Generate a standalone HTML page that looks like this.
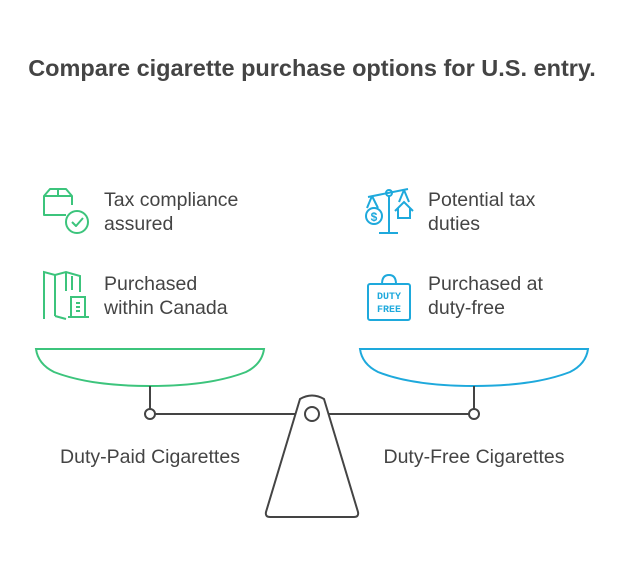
<!DOCTYPE html>
<html><head><meta charset="utf-8"><style>
body{margin:0;background:#fff;}
svg{display:block;font-family:"Liberation Sans",sans-serif;}
</style></head><body>
<svg width="624" height="576" viewBox="0 0 624 576" xmlns="http://www.w3.org/2000/svg">
<rect width="624" height="576" fill="#fff"/>
<text x="312" y="76" text-anchor="middle" font-size="23.5" font-weight="bold" fill="#444">Compare cigarette purchase options for U.S. entry.</text>

<path d="M36 349 L264 349 Q262 364 246 372 Q210 386 150 386 Q90 386 54 372 Q38 364 36 349 Z" fill="none" stroke="#3cc47c" stroke-width="2"/>
<path d="M360 349 L588 349 Q586 364 570 372 Q534 386 474 386 Q414 386 378 372 Q362 364 360 349 Z" fill="none" stroke="#1ea9dc" stroke-width="2"/>

<g stroke="#444" stroke-width="2" fill="none">
<line x1="150" y1="386" x2="150" y2="409"/>
<line x1="474" y1="386" x2="474" y2="409"/>
<line x1="155" y1="414" x2="303" y2="414"/>
<line x1="321" y1="414" x2="469" y2="414"/>
<circle cx="150" cy="414" r="5" fill="#fff"/>
<circle cx="474" cy="414" r="5" fill="#fff"/>
<path d="M300 399 Q312 392 324 399 L358 512 Q359 517 354 517 L270 517 Q265 517 266 512 Z" fill="#fff"/>
<circle cx="312" cy="414" r="7" fill="#fff"/>
</g>

<text x="150" y="463" text-anchor="middle" font-size="19.5" fill="#444">Duty-Paid Cigarettes</text>
<text x="474" y="463" text-anchor="middle" font-size="19.5" fill="#444">Duty-Free Cigarettes</text>

<g font-size="19.5" fill="#444">
<text x="104" y="206">Tax compliance</text>
<text x="104" y="230">assured</text>
<text x="104" y="290">Purchased</text>
<text x="104" y="314">within Canada</text>
<text x="428" y="206">Potential tax</text>
<text x="428" y="230">duties</text>
<text x="428" y="290">Purchased at</text>
<text x="428" y="314">duty-free</text>
</g>

<g stroke="#3cc47c" stroke-width="2" fill="none" stroke-linejoin="round">
<path d="M66 215 L44 215 L44 196 L50 189 L66 189 L72 196 L72 205"/>
<line x1="44" y1="196" x2="72" y2="196"/>
<line x1="58" y1="189" x2="58" y2="196"/>
<circle cx="77" cy="222" r="11"/>
<path d="M72 222 L76 226 L83 218"/>
</g>
<g stroke="#3cc47c" stroke-width="2" fill="none">
<path d="M44 319 L44 272 L55 275 L66 272 L80 276 L80 292"/>
<line x1="55" y1="275" x2="55" y2="316"/>
<line x1="66" y1="272" x2="66" y2="291"/>
<line x1="72" y1="276" x2="72" y2="290"/>
<path d="M55 316 L66 319"/>
<rect x="71" y="297" width="14" height="20"/>
<path d="M68 317 L89 317 M76 303 L80 303 M76 307 L80 307 M76 311 L80 311"/>
</g>
<g stroke="#1ea9dc" stroke-width="2" fill="none">
<line x1="368" y1="197" x2="408" y2="189"/>
<circle cx="389" cy="193" r="3"/>
<line x1="389" y1="196" x2="389" y2="233"/>
<line x1="379" y1="233" x2="398" y2="233"/>
<path d="M372 196 L367 208 M372 196 L378 208"/>
<circle cx="374" cy="216" r="8"/>
<text x="374" y="221" text-anchor="middle" font-size="12" fill="#1ea9dc" stroke="none" font-weight="bold">$</text>
<path d="M404 190 L399 202 M404 190 L409 202"/>
<path d="M395 211 L404 202 L413 211 M398 208 L398 218 L410 218 L410 208"/>
</g>
<g stroke="#1ea9dc" stroke-width="2" fill="none">
<rect x="368" y="284" width="42" height="36" rx="2"/>
<path d="M382 284 Q382 275 389 275 Q396 275 396 284"/>
</g>
<text x="389" y="299" text-anchor="middle" font-size="10" font-weight="bold" fill="#1ea9dc" font-family="Liberation Mono,monospace">DUTY</text>
<text x="389" y="312" text-anchor="middle" font-size="10" font-weight="bold" fill="#1ea9dc" font-family="Liberation Mono,monospace">FREE</text>
</svg>
</body></html>
